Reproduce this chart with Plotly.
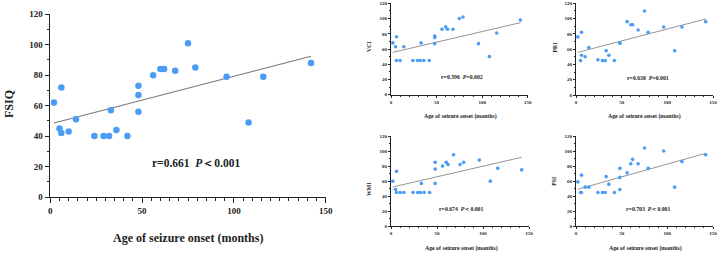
import plotly.graph_objects as go

# ---------------- data ----------------
onset_months = [2, 5, 6, 6, 10, 14, 24, 29, 32, 33, 36, 42, 48, 48, 48, 56, 60, 62, 68, 75, 79, 96, 108, 116, 142]
fsiq = [62, 45, 42, 72, 43, 51, 40, 40, 40, 57, 44, 40, 73, 67, 56, 80, 84, 84, 83, 101, 85, 79, 49, 79, 88]
vci = [68, 63, 76, 45, 45, 63, 45, 45, 45, 68, 45, 45, 77, 75, 67, 86, 89, 86, 86, 100, 102, 67, 50, 81, 98]
pri = [76, 45, 52, 82, 50, 62, 46, 45, 45, 58, 52, 45, 68, 68, 68, 96, 92, 92, 85, 110, 82, 89, 58, 89, 96]
wmi = [60, 49, 73, 45, 45, 45, 45, 45, 45, 57, 45, 45, 85, 76, 57, 80, 85, 82, 95, 82, 85, 88, 60, 77, 75]
psi = [59, 45, 45, 68, 52, 52, 45, 45, 45, 66, 56, 45, 77, 65, 49, 71, 83, 89, 83, 104, 77, 100, 52, 86, 95]

fit_x = [2, 142]
fsiq_fit = [48.6, 92.4]
vci_fit = [55.6, 94.6]
pri_fit = [55.8, 99.5]
wmi_fit = [52.3, 91.7]
psi_fit = [49.2, 97.0]

x_ticks = [0, 50, 100, 150]
y_ticks = [0, 20, 40, 60, 80, 100, 120]
x_title = "Age of seizure onset (months)"

panels = [
    # name, values, fit, stat label
    ("FSIQ", fsiq, fsiq_fit, "r=0.661  <i>P</i>\uff1c0.001"),
    ("VCI", vci, vci_fit, "r=0.596  <i>P</i>=0.002"),
    ("PRI", pri, pri_fit, "r=0.638  <i>P</i>=0.001"),
    ("WMI", wmi, wmi_fit, "r=0.674  <i>P</i>\uff1c0.001"),
    ("PSI", psi, psi_fit, "r=0.703  <i>P</i>\uff1c0.001"),
]

# ---------------- layout (pixels) ----------------
W, H = 719, 253
FONT = "Liberation Serif, Times New Roman, serif"
DOT = "#4b9cf5"
LINE = "#7a7a7a"

def fx(px):
    return px / W

def fy(py):
    return 1 - py / H

# x0, x1 (left/right px), ybottom, ytop (px), main?
geom = [
    (50.3, 325.7, 197.0, 14.3, True),
    (391.0, 527.7, 94.7, 3.3, False),
    (576.0, 713.0, 95.0, 3.3, False),
    (391.0, 529.0, 226.3, 136.0, False),
    (576.0, 713.0, 226.3, 136.0, False),
]
# annotation positions (px): stat text, x-title, y-title
stat_pos = [(196, 163), (461.7, 77.3), (648, 78), (461.7, 209.3), (648.3, 209.3)]
xt_pos = [(188, 238), (460, 116), (644, 116.7), (461, 248.5), (645, 248)]
yt_pos = [(9, 104), (368.3, 46.7), (554, 47.5), (368.3, 188.7), (554, 180.7)]

fig = go.Figure()
layout = dict(
    width=W, height=H,
    margin=dict(l=0, r=0, t=0, b=0),
    paper_bgcolor="white", plot_bgcolor="white",
    showlegend=False,
    font=dict(family=FONT, color="#222"),
)
annotations = []

for i, ((name, vals, fit, stat), (x0, x1, yb, yt, main)) in enumerate(zip(panels, geom)):
    sfx = "" if i == 0 else str(i + 1)
    xa, ya = "x" + sfx, "y" + sfx
    msize = 6.5 if main else 3.6
    lw = 1.1 if main else 0.8
    fig.add_trace(go.Scatter(x=fit_x, y=fit, mode="lines", xaxis=xa, yaxis=ya,
                             line=dict(color=LINE, width=lw), hoverinfo="skip"))
    fig.add_trace(go.Scatter(x=onset_months, y=vals, mode="markers", xaxis=xa, yaxis=ya,
                             marker=dict(color=DOT, size=msize, line=dict(width=0))))
    tfs = 9 if main else 5
    axlw = 1.4 if main else 0.8
    common = dict(showgrid=False, zeroline=False, showline=True, linecolor="#222",
                  linewidth=axlw, ticks="outside", ticklen=4.5 if main else 2.2,
                  tickwidth=axlw, tickcolor="#222", automargin=False,
                  tickfont=dict(family=FONT, size=tfs, color="#222", weight="bold"))
    layout["xaxis" + sfx] = dict(
        common, domain=[fx(x0), fx(x1)], range=[0, 150], tickvals=x_ticks,
        anchor=ya,
        minor=dict(dtick=5 if main else 10, tick0=0, ticks="outside",
                   ticklen=2.6 if main else 1.2, tickwidth=axlw * 0.8, tickcolor="#222"),
    )
    layout["yaxis" + sfx] = dict(
        common, domain=[fy(yb), fy(yt)], range=[0, 120], tickvals=y_ticks,
        anchor=xa,
        minor=dict(dtick=10, tick0=0, ticks="outside",
                   ticklen=2.6 if main else 1.2, tickwidth=axlw * 0.8, tickcolor="#222"),
    )
    sfs = 11.5 if main else 5.8
    tsz = 12 if main else 5.8
    sx, sy = stat_pos[i]
    annotations.append(dict(text="<b>" + stat + "</b>", x=fx(sx), y=fy(sy), xref="paper", yref="paper",
                            showarrow=False, xanchor="center", yanchor="middle",
                            font=dict(family=FONT, size=sfs, color="#222")))
    tx, ty = xt_pos[i]
    annotations.append(dict(text="<b>" + x_title + "</b>", x=fx(tx), y=fy(ty), xref="paper", yref="paper",
                            showarrow=False, xanchor="center", yanchor="middle",
                            font=dict(family=FONT, size=tsz, color="#222")))
    qx, qy = yt_pos[i]
    annotations.append(dict(text="<b>" + name + "</b>", x=fx(qx), y=fy(qy), xref="paper", yref="paper",
                            showarrow=False, xanchor="center", yanchor="middle", textangle=-90,
                            font=dict(family=FONT, size=tsz, color="#222")))

layout["annotations"] = annotations
fig.update_layout(**layout)
fig.write_html("out.html",
               config={"displayModeBar": False},
               post_script="document.body.style.margin='0';document.body.style.overflow='hidden';")
